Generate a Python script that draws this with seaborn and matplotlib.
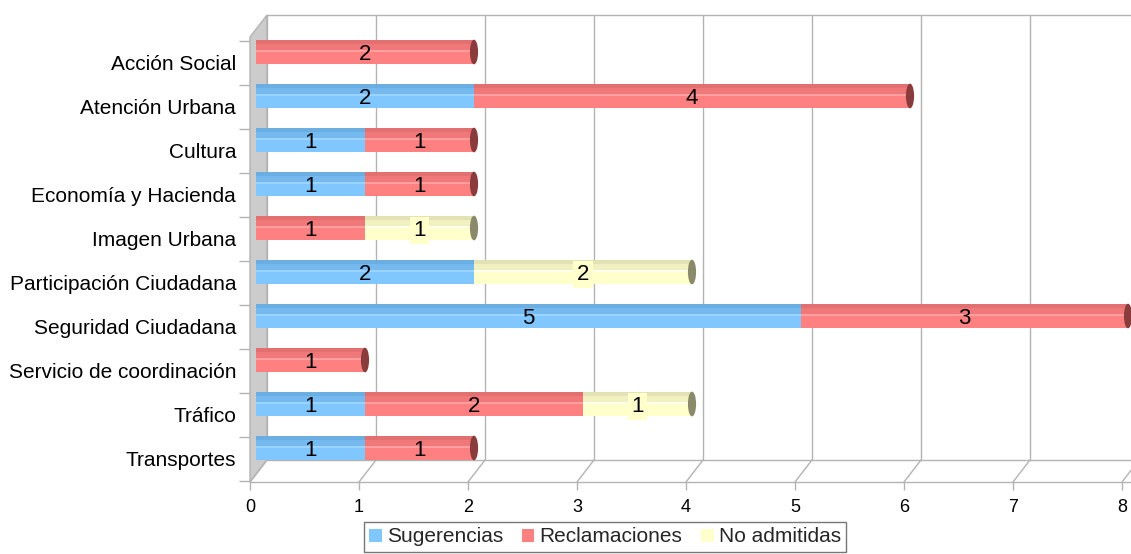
import numpy as np
import pandas as pd
import matplotlib
matplotlib.use("Agg")
import matplotlib.pyplot as plt
import matplotlib.transforms as mtransforms
from matplotlib.patches import Ellipse, Polygon, Patch
import seaborn as sns

categories = ["Acción Social", "Atención Urbana", "Cultura", "Economía y Hacienda",
              "Imagen Urbana", "Participación Ciudadana", "Seguridad Ciudadana",
              "Servicio de coordinación", "Tráfico", "Transportes"]
sugerencias = [0, 2, 1, 1, 0, 2, 5, 0, 1, 1]
reclamaciones = [2, 4, 1, 1, 1, 0, 3, 1, 2, 1]
no_admitidas = [0, 0, 0, 0, 1, 2, 0, 0, 1, 0]
series_names = ["Sugerencias", "Reclamaciones", "No admitidas"]
x_ticks = [0, 1, 2, 3, 4, 5, 6, 7, 8]

# style
base_cols = ["#80c6ff", "#ff8080", "#ffffcc"]
top_cols = ["#6aaee2", "#e27070", "#e2e2b4"]
mid_cols = ["#74b9ef", "#f07878", "#f0f0c0"]
hi_cols = ["#9dd4ff", "#ff9f9f", "#fffff0"]
cap_cols = ["#3d6f99", "#8a3c3c", "#8a8a6a"]

sns.set_theme(style="white")
plt.rcParams["font.family"] = ["Liberation Sans", "DejaVu Sans"]
FS = 15

fig = plt.figure(figsize=(11.31, 5.54), dpi=100)
ax = fig.add_axes([250 / 1131, 1 - 482 / 554, (1122 - 250) / 1131, (482 - 15) / 554])

S = np.array(sugerencias, float)
R = np.array(reclamaciones, float)
N = np.array(no_admitidas, float)
layers = [S, R, N]
cum = [S, S + R, S + R + N]
starts = [np.zeros_like(S), S, S + R]
pos = np.arange(len(categories))

df = pd.DataFrame({"cat": categories, "S": cum[0], "SR": cum[1], "T": cum[2]})

bar_tr = mtransforms.offset_copy(ax.transData, fig=fig, x=6, y=11, units="dots")
H = 0.56

# draw layers from largest cumulative to smallest (overlay stacking)
for k, col in [(2, "T"), (1, "SR"), (0, "S")]:
    sns.barplot(data=df, y="cat", x=col, orient="h", color=base_cols[k], saturation=1,
                width=H, errorbar=None, linewidth=0, ax=ax, transform=bar_tr, zorder=3)
    # cylinder shading stripes
    for (a, b, c) in [(0.0, 0.16, top_cols[k]), (0.16, 0.42, mid_cols[k]),
                      (0.42, 0.48, hi_cols[k])]:
        ax.barh(pos - H / 2 + a * H, cum[k], height=(b - a) * H, left=0, align="edge",
                color=c, linewidth=0, transform=bar_tr, zorder=3)

# end caps
for i in pos:
    last = max([k for k in range(3) if layers[k][i] > 0])
    ax.add_patch(Ellipse((cum[2][i], i), 0.075, H, facecolor=cap_cols[last], edgecolor="none",
                         transform=bar_tr, zorder=4))

# value labels
for k in range(3):
    for i in pos:
        v = layers[k][i]
        if v > 0:
            kw = {}
            if k == 2:
                kw["bbox"] = dict(boxstyle="square,pad=0.15", fc="#ffffcc", ec="none")
            ax.text(starts[k][i] + v / 2, i + 0.06, f"{int(v)}", ha="center", va="center",
                    fontsize=16, color="black", transform=bar_tr, zorder=5, **kw)

for p in ax.patches:
    p.set_clip_on(False)

# 3D frame
dxd = 17 / 109
dyd = 0.5
ytop = -(63 - 15) / 44
ybot = 9 + (482 - 459) / 44
yback = ybot - dyd
gc = "#b3b3b3"
ax.add_patch(Polygon([(0, ybot), (dxd, yback), (dxd, ytop), (0, ytop + dyd)], closed=True,
                     facecolor="#cccccc", edgecolor=gc, linewidth=1, clip_on=False, zorder=1))
for x in x_ticks:
    ax.plot([x + dxd, x + dxd], [yback, ytop], color=gc, lw=1, clip_on=False, zorder=1)
    ax.plot([x, x + dxd], [ybot, yback], color=gc, lw=1, clip_on=False, zorder=1)
ax.plot([dxd, 8.3], [ytop, ytop], color=gc, lw=1, clip_on=False, zorder=1)
ax.plot([dxd, 8.3], [yback, yback], color=gc, lw=1, clip_on=False, zorder=1)
ax.plot([0, 8.3], [ybot, ybot], color=gc, lw=1, clip_on=False, zorder=1)

ax.set_xlim(0, 8)
ax.set_ylim(ybot, ytop)
ax.set_xticks(x_ticks)
ax.set_xticklabels([str(x) for x in x_ticks], fontsize=13)
ax.set_yticks(pos)
ax.set_yticklabels(categories, fontsize=FS)
ax.set_yticks(np.append(pos - 0.5, 9.5), minor=True)
ax.tick_params(axis="y", which="major", length=0, pad=10, colors="black")
ax.tick_params(axis="y", which="minor", left=True, length=8, color=gc, width=1)
ax.tick_params(axis="x", which="major", bottom=True, length=6, color=gc, width=1, pad=6)
for lab in ax.get_xticklabels():
    lab.set_color("black")
ax.set_xlabel("")
ax.set_ylabel("")
for sp in ax.spines.values():
    sp.set_visible(False)
ax.grid(False)

handles = [Patch(facecolor=base_cols[k], edgecolor="none", label=series_names[k]) for k in range(3)]
leg = fig.legend(handles=handles, loc="center", bbox_to_anchor=(605 / 1131, 1 - 537 / 554),
                 ncol=3, frameon=True, fancybox=False, fontsize=FS, handlelength=0.6,
                 handleheight=0.6, handletextpad=0.25, columnspacing=0.9, borderpad=0.25,
                 borderaxespad=0)
leg.get_frame().set_edgecolor("#555555")
leg.get_frame().set_linewidth(1)

fig.savefig("out.png", dpi=100)
